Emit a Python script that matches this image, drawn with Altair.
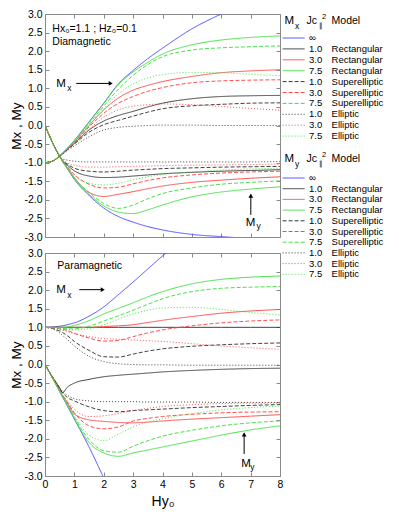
import altair as alt
import pandas as pd

# ---------------- data ----------------
hy0 = [0, 0.25, 0.5, 0.6, 0.75, 1, 1.5, 2, 2.5, 3, 3.5, 4, 5, 6, 7, 8]

# Diamagnetic panel: Mx
dia_mx_inf = [-1, -0.96, -0.82, -0.74, -0.62, -0.40, 0.10, 0.60, 1.12, 1.48, 1.80, 2.08, 2.60, 3.00, None, None]
dia_mx_r1 = [-1, -0.96, -0.82, -0.76, -0.65, -0.48, -0.12, 0.12, 0.27, 0.38, 0.50, 0.60, 0.72, 0.78, 0.80, 0.81]
dia_mx_r3 = [-1, -0.96, -0.82, -0.75, -0.63, -0.44, 0.00, 0.42, 0.74, 0.95, 1.08, 1.18, 1.32, 1.42, 1.47, 1.50]
dia_mx_r75 = [-1, -0.96, -0.82, -0.74, -0.62, -0.41, 0.09, 0.59, 1.10, 1.44, 1.70, 1.92, 2.17, 2.30, 2.37, 2.41]
dia_mx_s1 = [-1, -0.96, -0.82, -0.76, -0.66, -0.50, -0.18, 0.02, 0.14, 0.25, 0.36, 0.45, 0.53, 0.57, 0.60, 0.61]
dia_mx_s3 = [-1, -0.96, -0.82, -0.75, -0.64, -0.46, -0.04, 0.33, 0.60, 0.78, 0.92, 1.02, 1.15, 1.20, 1.22, 1.23]
dia_mx_s75 = [-1, -0.96, -0.82, -0.74, -0.63, -0.43, 0.05, 0.52, 0.98, 1.35, 1.64, 1.85, 2.03, 2.09, 2.12, 2.14]
dia_mx_e1 = [-1, -0.96, -0.82, -0.77, -0.68, -0.55, -0.30, -0.12, -0.05, -0.02, 0.00, 0.01, 0.01, 0.00, 0.00, 0.00]
dia_mx_e3 = [-1, -0.96, -0.82, -0.76, -0.65, -0.48, -0.10, 0.22, 0.42, 0.52, 0.56, 0.58, 0.56, 0.51, 0.46, 0.41]
dia_mx_e75 = [-1, -0.96, -0.82, -0.75, -0.64, -0.45, 0.00, 0.45, 0.85, 1.12, 1.28, 1.37, 1.43, 1.42, 1.38, 1.34]

# Diamagnetic panel: My
dia_my_inf = [0, -0.45, -0.83, -0.97, -1.15, -1.45, -1.88, -2.22, -2.45, -2.60, -2.72, -2.81, -2.93, -2.99, -3.04, -3.08]
dia_my_r1 = [0, -0.45, -0.83, -0.95, -1.06, -1.22, -1.36, -1.40, -1.39, -1.36, -1.33, -1.30, -1.26, -1.23, -1.21, -1.19]
dia_my_r3 = [0, -0.45, -0.83, -0.97, -1.12, -1.40, -1.80, -1.91, -1.85, -1.78, -1.70, -1.63, -1.53, -1.47, -1.42, -1.38]
dia_my_r75 = [0, -0.45, -0.83, -0.97, -1.14, -1.44, -1.85, -2.16, -2.33, -2.37, -2.27, -2.14, -1.92, -1.79, -1.71, -1.65]
dia_my_s1 = [0, -0.45, -0.83, -0.94, -1.03, -1.15, -1.23, -1.25, -1.23, -1.20, -1.18, -1.16, -1.14, -1.12, -1.11, -1.10]
dia_my_s3 = [0, -0.45, -0.83, -0.96, -1.10, -1.32, -1.58, -1.68, -1.66, -1.57, -1.48, -1.41, -1.33, -1.28, -1.25, -1.23]
dia_my_s75 = [0, -0.45, -0.83, -0.97, -1.13, -1.42, -1.80, -2.10, -2.23, -2.14, -1.97, -1.83, -1.68, -1.58, -1.53, -1.49]
dia_my_e1 = [0, -0.45, -0.83, -0.90, -0.93, -0.96, -0.98, -0.98, -0.98, -0.98, -0.98, -0.98, -0.98, -0.98, -0.98, -0.97]
dia_my_e3 = [0, -0.45, -0.83, -0.93, -1.00, -1.07, -1.12, -1.12, -1.11, -1.10, -1.09, -1.08, -1.07, -1.06, -1.05, -1.04]
dia_my_e75 = [0, -0.45, -0.83, -0.96, -1.10, -1.35, -1.55, -1.60, -1.55, -1.46, -1.38, -1.32, -1.25, -1.20, -1.17, -1.15]

# Paramagnetic panel: Mx
para_mx_inf = [1, 1.01, 1.03, 1.04, 1.07, 1.12, 1.30, 1.55, 1.88, 2.22, 2.57, 2.92, 3.50, None, None, None]
para_mx_r1 = [1.0, 1.0, 1.0, 1.0, 1.0, 1.0, 1.0, 1.0, 1.0, 1.0, 1.0, 1.0, 1.0, 1.0, 1.0, 1.0]
para_mx_r3 = [1.0, 1.0, 1.0, 1.0, 1.0, 1.0, 1.0, 1.02, 1.04, 1.07, 1.13, 1.19, 1.29, 1.38, 1.44, 1.48]
para_mx_r75 = [1.0, 1.0, 1.0, 1.0, 1.01, 1.05, 1.18, 1.36, 1.51, 1.66, 1.82, 1.96, 2.17, 2.29, 2.35, 2.38]
para_mx_s1 = [1.0, 0.97, 0.90, 0.86, 0.78, 0.62, 0.38, 0.21, 0.20, 0.28, 0.36, 0.42, 0.49, 0.53, 0.56, 0.58]
para_mx_s3 = [1.0, 0.99, 0.96, 0.95, 0.92, 0.84, 0.71, 0.63, 0.65, 0.75, 0.85, 0.93, 1.04, 1.12, 1.17, 1.20]
para_mx_s75 = [1.0, 0.99, 0.98, 0.97, 0.96, 0.96, 1.03, 1.17, 1.31, 1.46, 1.62, 1.77, 1.96, 2.05, 2.08, 2.10]
para_mx_e1 = [1.0, 0.96, 0.85, 0.78, 0.68, 0.50, 0.22, 0.08, 0.02, 0.00, -0.01, -0.01, -0.02, -0.02, -0.02, -0.02]
para_mx_e3 = [1.0, 0.98, 0.94, 0.92, 0.89, 0.83, 0.75, 0.70, 0.68, 0.66, 0.64, 0.62, 0.56, 0.50, 0.45, 0.41]
para_mx_e75 = [1.0, 0.99, 0.97, 0.96, 0.95, 0.93, 0.96, 1.07, 1.22, 1.36, 1.46, 1.52, 1.54, 1.48, 1.40, 1.33]

# Paramagnetic panel: My
para_my_inf = [0, -0.36, -0.73, -0.88, -1.10, -1.47, -2.22, -3.05, -3.85, None, None, None, None, None, None, None]
para_my_r1 = [0, -0.33, -0.63, -0.76, -0.62, -0.50, -0.40, -0.33, -0.29, -0.26, -0.23, -0.20, -0.16, -0.13, -0.11, -0.10]
para_my_r3 = [0, -0.35, -0.70, -0.84, -1.02, -1.33, -1.49, -1.53, -1.56, -1.57, -1.55, -1.52, -1.47, -1.43, -1.39, -1.35]
para_my_r75 = [0, -0.35, -0.72, -0.87, -1.07, -1.45, -2.10, -2.38, -2.47, -2.38, -2.30, -2.22, -2.06, -1.90, -1.76, -1.65]
para_my_s1 = [0, -0.33, -0.65, -0.76, -0.88, -0.98, -1.14, -1.24, -1.27, -1.24, -1.22, -1.20, -1.16, -1.13, -1.10, -1.08]
para_my_s3 = [0, -0.35, -0.70, -0.83, -1.00, -1.30, -1.65, -1.73, -1.68, -1.52, -1.45, -1.40, -1.34, -1.30, -1.28, -1.27]
para_my_s75 = [0, -0.35, -0.72, -0.86, -1.06, -1.42, -2.02, -2.32, -2.36, -2.20, -2.05, -1.93, -1.77, -1.65, -1.57, -1.52]
para_my_e1 = [0, -0.33, -0.62, -0.72, -0.82, -0.92, -0.98, -1.00, -1.00, -1.00, -1.01, -1.01, -1.01, -1.02, -1.02, -1.02]
para_my_e3 = [0, -0.35, -0.69, -0.82, -0.97, -1.20, -1.40, -1.38, -1.32, -1.24, -1.18, -1.13, -1.08, -1.05, -1.04, -1.04]
para_my_e75 = [0, -0.35, -0.71, -0.85, -1.04, -1.38, -1.90, -2.05, -1.87, -1.68, -1.55, -1.46, -1.32, -1.22, -1.16, -1.12]

legend_jc = ["∞", "1.0", "3.0", "7.5", "1.0", "3.0", "7.5", "1.0", "3.0", "7.5"]
legend_model = ["Infinite", "Rectangular", "Rectangular", "Rectangular", "Superelliptic",
                "Superelliptic", "Superelliptic", "Elliptic", "Elliptic", "Elliptic"]

jc_domain = ["∞", "1.0", "3.0", "7.5"]
jc_colors = ["#4646ff", "#383838", "#ff4646", "#40df40"]
model_domain = ["Infinite", "Rectangular", "Superelliptic", "Elliptic"]
model_dashes = [[1, 0], [1, 0], [4, 2], [1, 2]]

# ---------------- layout ----------------
FONT = "Liberation Sans"
W = 235
H1 = 223
H2 = 223


def ref_x(px):
    return (px - 40.7) / 29.4


def ref_top_v(py):
    return (115.7 - py) / 38.6


def ref_bot_v(py):
    return (362.5 - py) / 38.83


def leg_v(py):
    return 3 - py * 6.0 / H1


series = {
    "dia": {
        "Mx": [dia_mx_inf, dia_mx_r1, dia_mx_r3, dia_mx_r75, dia_mx_s1, dia_mx_s3, dia_mx_s75, dia_mx_e1, dia_mx_e3, dia_mx_e75],
        "My": [dia_my_inf, dia_my_r1, dia_my_r3, dia_my_r75, dia_my_s1, dia_my_s3, dia_my_s75, dia_my_e1, dia_my_e3, dia_my_e75],
    },
    "para": {
        "Mx": [para_mx_inf, para_mx_r1, para_mx_r3, para_mx_r75, para_mx_s1, para_mx_s3, para_mx_s75, para_mx_e1, para_mx_e3, para_mx_e75],
        "My": [para_my_inf, para_my_r1, para_my_r3, para_my_r75, para_my_s1, para_my_s3, para_my_s75, para_my_e1, para_my_e3, para_my_e75],
    },
}

rows = []
for pname, comps in series.items():
    for comp, lists in comps.items():
        for k, vals in enumerate(lists):
            for xv, vv in zip(hy0, vals):
                rows.append({"panel": pname, "series": f"{comp}-{k}", "jc": legend_jc[k],
                             "model": legend_model[k], "x": xv, "v": vv})
df = pd.DataFrame(rows)

x_scale = alt.Scale(domain=[0, 8], nice=False, zero=False)
y_scale = alt.Scale(domain=[-3, 3], nice=False, zero=False)
color_enc = alt.Color("jc:N", scale=alt.Scale(domain=jc_domain, range=jc_colors), legend=None)
dash_enc = alt.StrokeDash("model:N", scale=alt.Scale(domain=model_domain, range=model_dashes), legend=None)

YT = [-3.0, -2.5, -2.0, -1.5, -1.0, -0.5, 0.0, 0.5, 1.0, 1.5, 2.0, 2.5, 3.0]

left_axis = alt.Axis(orient="left", values=YT, labelExpr="replace(format(datum.value, '.1f'), '\u2212', '-')",
                     tickSize=4, offset=-4, domain=False, grid=False, labelPadding=3,
                     title="Mx , My", titleFontSize=13.5, titlePadding=0, titleFontWeight="normal",
                     labelFontSize=10.5, labelOverlap=False)
right_axis = alt.Axis(orient="right", values=YT, tickSize=4, offset=-4, domain=False, grid=False,
                      labels=False, title=None)
top_axis = alt.Axis(orient="top", values=list(range(9)), tickSize=4, offset=-4, domain=False, grid=False,
                    labels=False, title=None)


def bottom_axis(show):
    if show:
        return alt.Axis(orient="bottom", values=list(range(9)), format="d", tickSize=4, offset=-4, domain=False,
                        grid=False, labelPadding=3, labelFlush=False, labelOverlap=False, labelFontSize=10.5,
                        title="Hy₀", titleFontSize=14, titleFontWeight="normal", titlePadding=5)
    return alt.Axis(orient="bottom", values=list(range(9)), tickSize=4, offset=-4, domain=False, grid=False,
                    labels=False, title=None)


def text_layer(tdf):
    return alt.Chart(tdf).mark_text(align="left", baseline="middle", font=FONT, color="black").encode(
        x=alt.X("tx:Q", scale=x_scale, axis=None),
        y=alt.Y("ty:Q", scale=y_scale, axis=None),
        text="t:N",
        size=alt.Size("fs:Q", scale=None, legend=None),
    )


def make_panel(pname, height, show_x, ann, arrows, heads, extra):
    d = df[df.panel == pname]
    lines = alt.Chart(d).mark_line(clip=True, strokeWidth=0.95, interpolate="monotone").encode(
        x=alt.X("x:Q", scale=x_scale, axis=bottom_axis(show_x)),
        y=alt.Y("v:Q", scale=y_scale, axis=left_axis),
        color=color_enc, strokeDash=dash_enc, detail="series:N",
    )
    frame = alt.Chart(d).mark_line(opacity=0).encode(
        x=alt.X("x:Q", scale=x_scale, axis=top_axis),
        y=alt.Y("v:Q", scale=y_scale, axis=right_axis),
        detail="series:N",
    )
    arr = alt.Chart(arrows).mark_rule(color="black", strokeWidth=1).encode(
        x=alt.X("ax1:Q", scale=x_scale, axis=None), x2="ax2:Q",
        y=alt.Y("ay1:Q", scale=y_scale, axis=None), y2="ay2:Q",
    )
    hd = alt.Chart(heads).mark_point(filled=True, color="black", size=22, opacity=1).encode(
        x=alt.X("hx:Q", scale=x_scale, axis=None),
        y=alt.Y("hy:Q", scale=y_scale, axis=None),
        shape=alt.Shape("shp:N", scale=None, legend=None),
    )
    layers = [lines, frame, text_layer(ann), arr, hd] + extra
    return alt.layer(*layers).resolve_axis(x="independent", y="independent").properties(width=W, height=height)


# ---- top panel annotations (reference pixel positions -> data units) ----
top_ann = pd.DataFrame([
    {"t": "Hx₀=1.1 ; Hz₀=0.1", "tx": ref_x(48), "ty": ref_top_v(15), "fs": 10.5},
    {"t": "Diamagnetic", "tx": ref_x(48), "ty": ref_top_v(28.5), "fs": 10.5},
    {"t": "M", "tx": ref_x(52), "ty": ref_top_v(72.5), "fs": 11.5},
    {"t": "x", "tx": ref_x(63), "ty": ref_top_v(77), "fs": 8.5},
    {"t": "M", "tx": ref_x(241.5), "ty": ref_top_v(216.5), "fs": 11.5},
    {"t": "y", "tx": ref_x(252.5), "ty": ref_top_v(220.5), "fs": 8.5},
])
top_arrows = pd.DataFrame([
    {"ax1": ref_x(72), "ax2": ref_x(106), "ay1": ref_top_v(72), "ay2": ref_top_v(72)},
    {"ax1": ref_x(246.7), "ax2": ref_x(246.7), "ay1": ref_top_v(208.5), "ay2": ref_top_v(189)},
])
top_heads = pd.DataFrame([
    {"hx": ref_x(106.5), "hy": ref_top_v(72), "shp": "triangle-right"},
    {"hx": ref_x(246.7), "hy": ref_top_v(188.5), "shp": "triangle-up"},
])

# ---- legends (drawn in the top panel, right of the plot) ----
leg_rows = []
for g, (hy_px, y0, dy) in enumerate([(7, 24, 10.9), (145, 164, 10.7)]):
    for i in range(10):
        leg_rows.append({"jc": legend_jc[i], "model": legend_model[i], "jl": legend_jc[i],
                         "ml": "" if legend_model[i] == "Infinite" else legend_model[i],
                         "lx1": ref_x(278.5), "lx2": ref_x(300.5), "lxn": ref_x(305), "lxm": ref_x(327.5),
                         "ly": leg_v(y0 + dy * i)})
leg_df = pd.DataFrame(leg_rows)

head_rows = []
for sub, hy_px in [("x", 7), ("y", 145)]:
    head_rows += [
        {"t": "M", "tx": ref_x(280.5), "ty": leg_v(hy_px), "fs": 11.5},
        {"t": sub, "tx": ref_x(291), "ty": leg_v(hy_px + 4.5), "fs": 8.5},
        {"t": "Jc", "tx": ref_x(302.5), "ty": leg_v(hy_px), "fs": 10.5},
        {"t": "∥", "tx": ref_x(314.5), "ty": leg_v(hy_px + 4.5), "fs": 7},
        {"t": "2", "tx": ref_x(318), "ty": leg_v(hy_px - 4.0), "fs": 7.5},
        {"t": "Model", "tx": ref_x(327.5), "ty": leg_v(hy_px), "fs": 10.5},
    ]
head_df = pd.DataFrame(head_rows)

leg_lines = alt.Chart(leg_df).mark_rule(strokeWidth=1).encode(
    x=alt.X("lx1:Q", scale=x_scale, axis=None), x2="lx2:Q",
    y=alt.Y("ly:Q", scale=y_scale, axis=None),
    color=color_enc, strokeDash=dash_enc,
)
leg_num = alt.Chart(leg_df).mark_text(align="left", baseline="middle", font=FONT, fontSize=9.5, color="black").encode(
    x=alt.X("lxn:Q", scale=x_scale, axis=None), y=alt.Y("ly:Q", scale=y_scale, axis=None), text="jl:N")
leg_mod = alt.Chart(leg_df).mark_text(align="left", baseline="middle", font=FONT, fontSize=9.5, color="black").encode(
    x=alt.X("lxm:Q", scale=x_scale, axis=None), y=alt.Y("ly:Q", scale=y_scale, axis=None), text="ml:N")

# ---- bottom panel annotations ----
bot_ann = pd.DataFrame([
    {"t": "Paramagnetic", "tx": ref_x(53), "ty": ref_bot_v(260), "fs": 10.5},
    {"t": "M", "tx": ref_x(52), "ty": ref_bot_v(285), "fs": 11.5},
    {"t": "x", "tx": ref_x(63), "ty": ref_bot_v(289.5), "fs": 8.5},
    {"t": "M", "tx": ref_x(237), "ty": ref_bot_v(466), "fs": 11.5},
    {"t": "y", "tx": ref_x(246), "ty": ref_bot_v(470), "fs": 8.5},
])
bot_arrows = pd.DataFrame([
    {"ax1": ref_x(75), "ax2": ref_x(98), "ay1": ref_bot_v(284.3), "ay2": ref_bot_v(284.3)},
    {"ax1": ref_x(240), "ax2": ref_x(240), "ay1": ref_bot_v(456), "ay2": ref_bot_v(436)},
])
bot_heads = pd.DataFrame([
    {"hx": ref_x(98.5), "hy": ref_bot_v(284.3), "shp": "triangle-right"},
    {"hx": ref_x(240), "hy": ref_bot_v(435.5), "shp": "triangle-up"},
])

top = make_panel("dia", H1, False, top_ann, top_arrows, top_heads,
                 [leg_lines, leg_num, leg_mod, text_layer(head_df)])
bottom = make_panel("para", H2, True, bot_ann, bot_arrows, bot_heads, [])

chart = alt.vconcat(top, bottom, spacing=16, bounds="flush").properties(
    padding={"left": 1, "top": 0, "right": 2, "bottom": 1}
).configure_view(stroke="#8a8a8a", strokeWidth=1).configure_axis(
    labelFont=FONT, titleFont=FONT, labelColor="black", titleColor="black",
    tickColor="#8a8a8a", tickWidth=1
).configure_text(font=FONT)

chart.save("out.html", embed_options={"renderer": "svg", "actions": False})
